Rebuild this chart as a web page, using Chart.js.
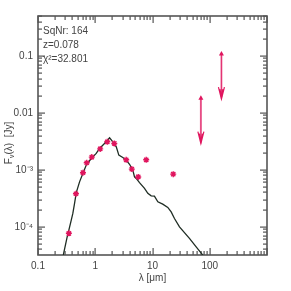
<!DOCTYPE html>
<html>
<head>
<meta charset="utf-8">
<script src="https://cdn.jsdelivr.net/npm/chart.js@4"></script>
<style>
  html, body { margin: 0; padding: 0; background: #fff; }
  #wrap { width: 291px; height: 291px; }
</style>
</head>
<body>
<div id="wrap"><canvas id="sedChart" width="291" height="291"></canvas></div>
<script>
// photometry (micron, Jy)
const lambdaPts = [0.346, 0.46, 0.61, 0.71, 0.87, 1.22, 1.62, 2.15, 3.47, 4.35, 5.63, 7.76, 23.0]
const fluxPts = [7.7e-5, 3.8e-4, 8.9e-4, 1.33e-3, 1.67e-3, 2.33e-3, 3.1e-3, 2.9e-3, 1.5e-3, 1.03e-3, 7.5e-4, 1.5e-3, 8.4e-4]

// upper limits
const limLambda = [70, 160]
const limFlux = [0.0183, 0.11]
const limFactor = 0.158

// best fit model
const modelLambda = [0.27, 0.28, 0.324, 0.346, 0.381, 0.406, 0.435, 0.466, 0.532, 0.608, 0.697, 0.851, 1.04, 1.19, 1.45, 1.78,
  2.03, 2.33, 2.58, 3.03, 3.48, 3.97, 4.53, 4.85, 5.2, 5.93, 7.25, 8.28, 9.49, 10.8, 12.4, 15.1, 18.5, 21.2, 24.2, 29.6,
  44.2, 57.9, 75.5, 82]
const modelFlux = [2.6e-5, 3.4e-5, 6.7e-5, 8.75e-5, 1.31e-4, 1.72e-4, 2.57e-4, 3.98e-4, 6.15e-4, 8.63e-4, 1.21e-3, 1.58e-3, 1.94e-3, 2.37e-3, 2.9e-3, 3.64e-3,
  3.1e-3, 2.53e-3, 1.81e-3, 1.65e-3, 1.48e-3, 1.25e-3, 9.9e-4, 7.54e-4, 7.06e-4, 5.96e-4, 4.72e-4, 3.86e-4, 3.5e-4, 3.46e-4, 2.75e-4, 2.5e-4, 2.19e-4, 1.83e-4, 1.4e-4, 1.0e-4,
  6.25e-5, 4.46e-5, 3.19e-5, 2.7e-5]

const xTickVals = [0.1, 1, 10, 100]
const xTickLabels = ['0.1', '1', '10', '100']
const yTickVals = [1e-4, 1e-3, 0.01, 0.1]
const yTickLabels = ['10\u207B\u2074', '10\u207B\u00B3', '0.01', '0.1']

// tick marks inside the frame
const xMajorMarks = [0.1, 1, 10, 100, 1000]
const xMinorMarks = [0.2, 0.3, 0.4, 0.5, 0.6, 0.7, 0.8, 0.9, 2, 3, 4, 5, 6, 7, 8, 9,
  20, 30, 40, 50, 60, 70, 80, 90, 200, 300, 400, 500, 600, 700, 800, 900]
const yMajorMarks = [1e-4, 1e-3, 0.01, 0.1]
const yMinorMarks = [4e-5, 5e-5, 6e-5, 7e-5, 8e-5, 9e-5, 2e-4, 3e-4, 4e-4, 5e-4, 6e-4, 7e-4, 8e-4, 9e-4,
  0.002, 0.003, 0.004, 0.005, 0.006, 0.007, 0.008, 0.009, 0.02, 0.03, 0.04, 0.05, 0.06, 0.07, 0.08, 0.09,
  0.2, 0.3, 0.4, 0.5]

const infoLines = ['SqNr: 164', 'z=0.078', '\u03C7\u00B2=32.801']

const fontFam = '"Liberation Sans", Arial, Helvetica, sans-serif'
const frameColor = '#555'
const textColor = '#444'
const pink = '#e0155e'

function drawMarks(chart) {
  const c = chart.ctx
  const a = chart.chartArea
  const xs = chart.scales.x
  const ys = chart.scales.y
  c.save()
  c.fillStyle = frameColor
  const xMark = (v, len) => {
    const px = Math.round(xs.getPixelForValue(v))
    c.fillRect(px - 0.5, a.bottom - len, 1.2, len)
    c.fillRect(px - 0.5, a.top, 1.2, len)
  }
  const yMark = (v, len) => {
    const py = Math.round(ys.getPixelForValue(v))
    c.fillRect(a.left, py - 0.5, len, 1.2)
    c.fillRect(a.right - len, py - 0.5, len, 1.2)
  }
  xMajorMarks.forEach(v => xMark(v, 7))
  xMinorMarks.forEach(v => xMark(v, 4))
  yMajorMarks.forEach(v => yMark(v, 7))
  yMinorMarks.forEach(v => yMark(v, 4))

  c.strokeStyle = frameColor
  c.lineWidth = 1.6
  c.strokeRect(a.left, a.top, a.right - a.left, a.bottom - a.top)
  c.restore()
}

const sedPlugin = {
  id: 'sedExtras',
  beforeDraw(chart) {
    const c = chart.ctx
    c.save()
    c.fillStyle = '#fff'
    c.fillRect(0, 0, chart.width, chart.height)
    c.restore()
  },
  beforeDatasetsDraw(chart) {
    drawMarks(chart)
  },
  afterDraw(chart) {
    const c = chart.ctx
    const a = chart.chartArea
    const xs = chart.scales.x
    const ys = chart.scales.y
    c.save()

    // upper limit arrows
    for (let i = 0; i < limLambda.length; i++) {
      const px = xs.getPixelForValue(limLambda[i])
      const top = ys.getPixelForValue(limFlux[i])
      const tip = ys.getPixelForValue(limFlux[i] * limFactor)
      c.strokeStyle = '#ee86ad'
      c.lineWidth = 2
      c.beginPath()
      c.moveTo(px, top); c.lineTo(px, tip - 2)
      c.stroke()
      c.strokeStyle = pink
      c.lineWidth = 0.8
      c.beginPath()
      c.moveTo(px, top); c.lineTo(px, tip)
      c.stroke()
      // head
      c.lineWidth = 1.2
      c.beginPath()
      c.moveTo(px - 3, tip - 12); c.lineTo(px, tip); c.lineTo(px + 3, tip - 12)
      c.moveTo(px - 1.5, tip - 10); c.lineTo(px, tip - 3); c.lineTo(px + 1.5, tip - 10)
      c.stroke()
      // marker at the limit value
      c.fillStyle = pink
      c.beginPath()
      c.moveTo(px - 2.5, top + 2); c.lineTo(px + 2.5, top + 2); c.lineTo(px, top - 2.5)
      c.closePath()
      c.fill()
    }

    // info text
    c.fillStyle = textColor
    c.font = '10px ' + fontFam
    c.textBaseline = 'middle'
    c.textAlign = 'left'
    infoLines.forEach((t, i) => c.fillText(t, a.left + 5, 31 + i * 14))

    // y title, rotated, with subscript nu
    c.translate(9, 143)
    c.rotate(-Math.PI / 2)
    const big = '10px ' + fontFam
    const small = '7px ' + fontFam
    c.font = big
    const wF = c.measureText('F').width
    const wRest = c.measureText('(\u03BB)  [Jy]').width
    c.font = small
    const wNu = c.measureText('\u03BD').width
    const x0 = -(wF + wNu + wRest) / 2
    c.font = big
    c.fillText('F', x0, 0)
    c.font = small
    c.fillText('\u03BD', x0 + wF, 3)
    c.font = big
    c.fillText('(\u03BB)  [Jy]', x0 + wF + wNu, 0)
    c.restore()
  }
}

const ctx = document.getElementById('sedChart')

const config = {
  type: 'scatter',
  data: {
    datasets: [{
      label: 'model',
      data: modelLambda.map((l, i) => ({ x: l, y: modelFlux[i] })),
      showLine: true,
      pointRadius: 0,
      borderColor: '#1f2d24',
      borderWidth: 1.3,
      tension: 0,
      order: 2
    }, {
      label: 'photometry',
      data: lambdaPts.map((l, i) => ({ x: l, y: fluxPts[i] })),
      pointStyle: 'star',
      pointRadius: 3,
      borderWidth: 1.4,
      borderColor: pink,
      backgroundColor: pink,
      order: 1
    }]
  },
  options: {
    responsive: false,
    animation: false,
    layout: { padding: { top: 16, right: 24, left: 0, bottom: 0 } },
    plugins: {
      legend: { display: false },
      tooltip: { enabled: false }
    },
    scales: {
      x: {
        type: 'logarithmic',
        min: 0.1,
        max: 1000,
        grid: { display: false, drawTicks: false },
        border: { display: false },
        afterBuildTicks: (s) => { s.ticks = xTickVals.map(v => ({ value: v })) },
        afterFit: (s) => { s.height = 36 },
        ticks: {
          autoSkip: false,
          maxRotation: 0,
          padding: 5,
          color: textColor,
          font: { family: fontFam, size: 10 },
          callback: (v) => xTickLabels[xTickVals.indexOf(v)]
        },
        title: {
          display: true,
          text: '\u03BB [\u03BCm]',
          color: textColor,
          font: { family: fontFam, size: 10 },
          padding: { top: 0, bottom: 7 }
        }
      },
      y: {
        type: 'logarithmic',
        min: 3.2e-5,
        max: 0.5,
        grid: { display: false, drawTicks: false },
        border: { display: false },
        afterBuildTicks: (s) => { s.ticks = yTickVals.map(v => ({ value: v })) },
        afterFit: (s) => { s.width = 38 },
        ticks: {
          autoSkip: false,
          padding: 5,
          color: textColor,
          font: { family: fontFam, size: 10 },
          callback: (v) => yTickLabels[yTickVals.indexOf(v)]
        }
      }
    }
  },
  plugins: [sedPlugin]
}

const chart = new Chart(ctx, config)
</script>
</body>
</html>
